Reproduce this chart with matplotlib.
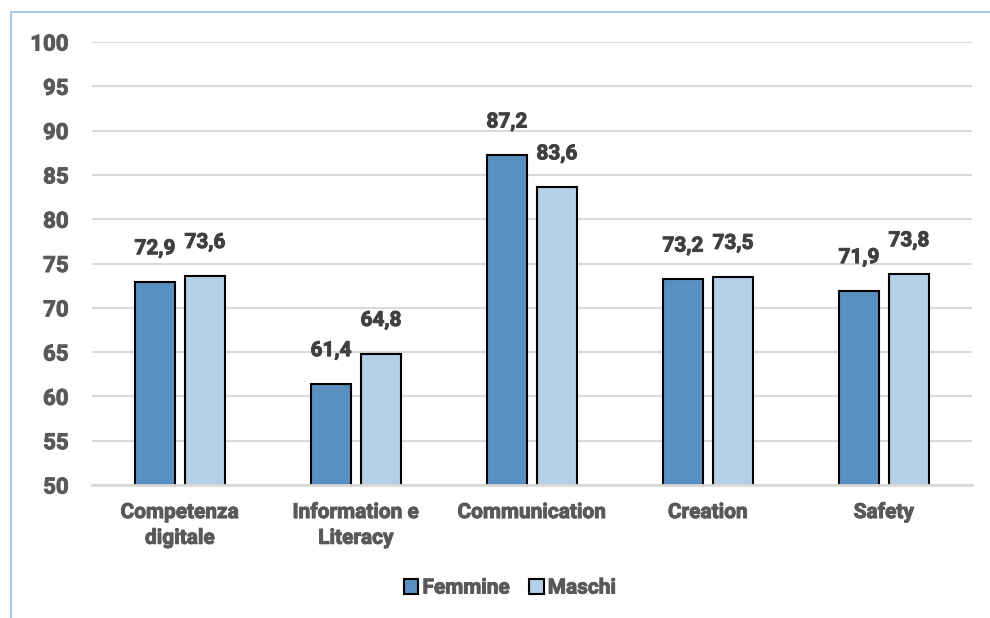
import matplotlib
matplotlib.use("Agg")
import matplotlib.pyplot as plt
import matplotlib.patheffects as pe
from matplotlib.lines import Line2D
import numpy as np

categories = ["Competenza\ndigitale", "Information e\nLiteracy", "Communication", "Creation", "Safety"]
femmine = [72.9, 61.4, 87.2, 73.2, 71.9]
maschi = [73.6, 64.8, 83.6, 73.5, 73.8]
series_names = ["Femmine", "Maschi"]
yticks = [50, 55, 60, 65, 70, 75, 80, 85, 90, 95, 100]

text_color = "#595959"
value_color = "#404040"
dark_blue = "#5a8fc1"
light_blue = "#b4d0e8"
weight = "bold"


def heavy(color):
    # thicken the bold glyphs slightly with an outline in the same colour
    return [pe.withStroke(linewidth=0.7, foreground=color)]


plt.rcParams["font.family"] = ["Roboto", "DejaVu Sans"]

fig = plt.figure(figsize=(9.9, 6.18), dpi=100)
ax = fig.add_axes([92 / 990, 1 - 485 / 618, 880 / 990, (485 - 42) / 618])

x = np.arange(len(categories))
width = 0.227
offset = 0.142

bars_f = ax.bar(x - offset, femmine, width, bottom=0, color=dark_blue,
                edgecolor="black", linewidth=1.5, label=series_names[0], zorder=3)
bars_m = ax.bar(x + offset, maschi, width, bottom=0, color=light_blue,
                edgecolor="black", linewidth=1.5, label=series_names[1], zorder=3)


def fmt(v):
    return f"{v:.1f}".replace(".", ",")


for bars, vals in ((bars_f, femmine), (bars_m, maschi)):
    for b, v in zip(bars, vals):
        ax.annotate(fmt(v), (b.get_x() + b.get_width() / 2, v),
                    xytext=(0, 24), textcoords="offset points",
                    ha="center", va="center", fontsize=15, fontweight=weight,
                    color=value_color, path_effects=heavy(value_color))

ax.set_xlim(-0.5, len(categories) - 0.5)
ax.set_ylim(50, 100)
ax.set_yticks(yticks)
ax.set_yticklabels([str(t) for t in yticks], fontsize=16, fontweight=weight, color=text_color)
ax.set_xticks(x)
ax.set_xticklabels(categories, fontsize=15, fontweight=weight, color=text_color,
                   linespacing=1.45)
for lbl in ax.get_xticklabels() + ax.get_yticklabels():
    lbl.set_path_effects(heavy(text_color))
ax.tick_params(axis="both", length=0)
ax.tick_params(axis="y", pad=17)
ax.tick_params(axis="x", pad=13)

ax.grid(axis="y", color="#d9d9d9", linewidth=1.5, zorder=0)
for side in ("left", "right", "top"):
    ax.spines[side].set_visible(False)
ax.spines["bottom"].set_color("#d9d9d9")
ax.spines["bottom"].set_linewidth(2)
ax.spines["bottom"].set_zorder(4)

leg = fig.legend(handles=[bars_f, bars_m], labels=series_names, loc="center",
                 bbox_to_anchor=(510 / 990, 1 - 588 / 618), ncol=2, frameon=False,
                 fontsize=15, handlelength=0.7, handleheight=0.7, handletextpad=0.2,
                 columnspacing=0.9)
for t in leg.get_texts():
    t.set_color(text_color)
    t.set_fontweight(weight)
    t.set_path_effects(heavy(text_color))

# light blue chart frame along the left and top edges
fx = 11 / 990
fy = 1 - 12 / 618
fig.add_artist(Line2D([fx, fx, 1.0], [0.0, fy, fy], transform=fig.transFigure,
                      color="#a9cbea", linewidth=1.5))

fig.savefig("out.png", dpi=100)
